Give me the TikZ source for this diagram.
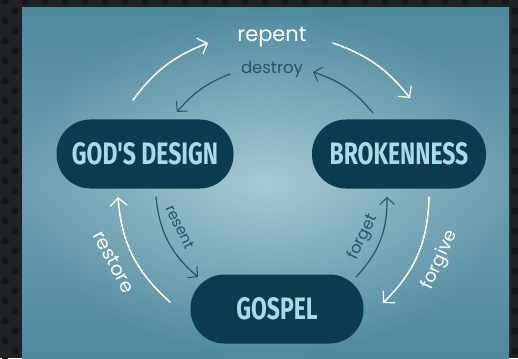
\documentclass[tikz,border=0pt]{standalone}
\usepackage{fontspec}
\usetikzlibrary{arrows.meta}
\newfontfamily\nodefont[FakeStretch=0.74]{Fira Sans}
\newfontfamily\handfont{Poppins}
\definecolor{framec}{HTML}{202326}
\definecolor{dotc}{HTML}{141618}
\definecolor{panelin}{HTML}{A6CAD3}
\definecolor{panelout}{HTML}{4F899E}
\definecolor{pill}{HTML}{0C3A4E}
\definecolor{pilltext}{HTML}{A9DBE6}
\definecolor{chalkdark}{HTML}{1E566C}
\begin{document}
\begin{tikzpicture}[x=1pt,y=-1pt,
  pillbox/.style={draw=none,fill=pill,rounded corners=34pt,minimum height=69pt,inner sep=0pt,
    text=pilltext,font=\nodefont\bfseries\fontsize{31}{31}\selectfont},
  chalkwhite/.style={draw=white,line width=1.5pt,line cap=round,
    -{Straight Barb[length=8pt,width=17pt,line width=1.2pt]}},
  chalkblue/.style={draw=chalkdark,line width=1.2pt,line cap=round,
    -{Straight Barb[length=7pt,width=15pt,line width=1pt]}},
  handwhite/.style={text=white,font=\handfont\fontsize{#1}{#1}\selectfont,inner sep=0pt},
  handblue/.style={text=chalkdark,font=\handfont\fontsize{#1}{#1}\selectfont,inner sep=0pt}]
\useasboundingbox (0,0) rectangle (518,358);
% frame with dots
\fill[framec] (0,0) rectangle (518,358);
\foreach \i in {0,...,52}{
  \foreach \j in {0,...,18}{
    \pgfmathsetmacro{\yy}{1+20*\j+10*mod(\i,2)}
    \fill[dotc] (5+10*\i,\yy) circle (3.8pt);
  }
}
% panel
\shade[inner color=panelin,outer color=panelout] (22,8) rectangle (509,358);
\shade[top color=panelout,bottom color=panelout,middle color=panelin,opacity=0.35] (22,8) rectangle (509,358);
% nodes
\node[pillbox,minimum width=177pt] (design) at (145,154) {GOD'S DESIGN};
\node[pillbox,minimum width=174pt] (broken) at (399,154) {BROKENNESS};
\node[pillbox,minimum width=173pt] (gospel) at (277,309) {GOSPEL};
% outer white coordinates
\coordinate (rpA) at (133,100);
\coordinate (rpB) at (208,43);
\coordinate (rpC) at (333,43);
\coordinate (rpD) at (410,98);
\coordinate (fgA) at (429,197);
\coordinate (fgB) at (383,303);
\coordinate (rsA) at (170,302);
\coordinate (rsB) at (118,197);
% inner dark coordinates
\coordinate (dsA) at (373,113);
\coordinate (dsB) at (313,72);
\coordinate (dsC) at (230,74);
\coordinate (dsD) at (177,112);
\coordinate (reA) at (156,197);
\coordinate (reB) at (198,277);
\coordinate (ftA) at (356,277);
\coordinate (ftB) at (387,197);
% white arrows
\draw[chalkwhite] (rpA) to[bend left=16] (rpB);
\draw[chalkwhite] (rpC) to[bend left=16] (rpD);
\draw[chalkwhite] (fgA) to[bend left=22] (fgB);
\draw[chalkwhite] (rsA) to[bend left=22] (rsB);
% dark arrows
\draw[chalkblue] (dsA) to[bend right=16] (dsB);
\draw[chalkblue] (dsC) to[bend right=14] (dsD);
\draw[chalkblue] (reA) to[bend right=22] (reB);
\draw[chalkblue] (ftA) to[bend right=22] (ftB);
% labels
\node[handwhite=21] (lrepent) at (272,37) {repent};
\node[handblue=16.5] (ldestroy) at (272,70) {destroy};
\node[handblue=15,rotate=-64] (lresent) at (180,227) {resent};
\node[handwhite=19,rotate=-62] (lrestore) at (114,262) {restore};
\node[handblue=16,rotate=64] (lforget) at (363,237) {forget};
\node[handwhite=18,rotate=66] (lforgive) at (440,260) {forgive};
\end{tikzpicture}
\end{document}
